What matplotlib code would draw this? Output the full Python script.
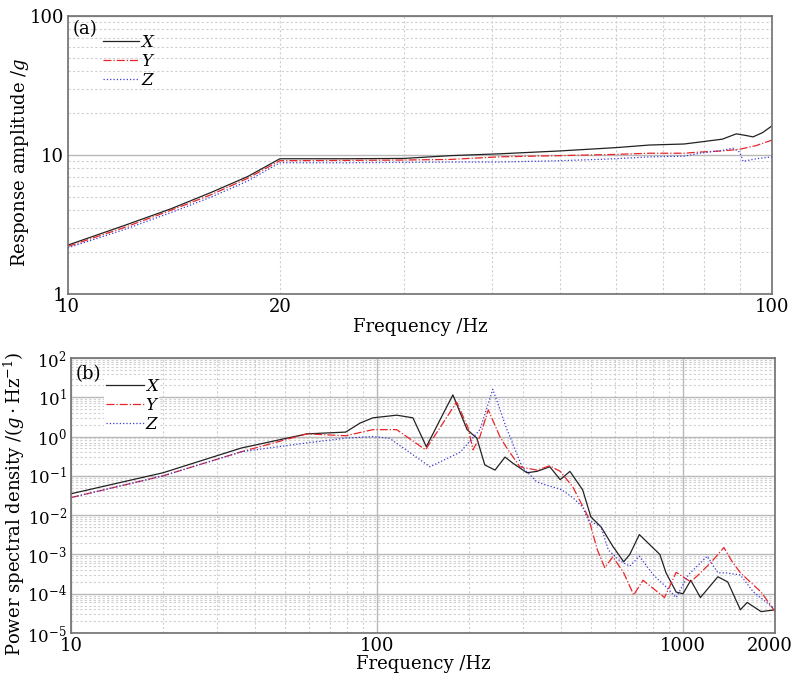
import matplotlib
matplotlib.use("Agg")
import matplotlib.pyplot as plt
import matplotlib.transforms as mtransforms
from matplotlib.ticker import FixedLocator, NullFormatter, LogLocator, FixedFormatter

plt.rcParams['font.family'] = ['DejaVu Serif']
plt.rcParams['mathtext.fontset'] = 'dejavuserif'

# ---------------- Panel (a): response amplitude ----------------
fa_x = [10, 12, 14, 16, 18, 20, 25, 30, 35, 41, 50, 60, 67, 75, 79, 85, 89, 92, 94, 97, 100]
amp_x = [2.25, 3.1, 4.1, 5.4, 7.0, 9.4, 9.4, 9.45, 9.9, 10.2, 10.7, 11.3, 11.8, 12.0, 12.4, 13.0, 14.2, 13.8, 13.5, 14.5, 16.2]
fa_y = [10, 12, 14, 16, 18, 20, 25, 30, 35, 41, 50, 60, 67, 75, 79, 85, 90, 95, 100]
amp_y = [2.2, 3.0, 4.0, 5.2, 6.8, 9.1, 9.15, 9.2, 9.3, 9.7, 9.9, 10.1, 10.3, 10.3, 10.5, 10.7, 11.0, 11.7, 12.8]
fa_z = [10, 12, 14, 16, 18, 20, 25, 30, 35, 41, 50, 60, 67, 75, 79, 85, 88, 90, 91, 95, 100]
amp_z = [2.15, 2.9, 3.85, 5.0, 6.5, 8.8, 8.8, 8.85, 8.9, 8.9, 9.1, 9.4, 9.7, 9.8, 10.3, 10.8, 11.2, 10.5, 9.0, 9.4, 9.7]

# ---------------- Panel (b): power spectral density ----------------
fb_x = [10, 20, 36, 59, 79, 88, 97, 116, 131, 145, 160, 177, 197, 212, 225, 243, 262, 278, 309, 333, 367, 397, 427, 470,
        500, 540, 590, 640, 670, 720, 840, 880, 950, 1000, 1060, 1140, 1300, 1400, 1540, 1620, 1800, 2000]
psd_x = [0.035, 0.12, 0.51, 1.17, 1.3, 2.2, 3.0, 3.5, 3.0, 0.55, 2.5, 11.5, 1.5, 0.91, 0.19, 0.14, 0.30, 0.21, 0.12, 0.13, 0.17, 0.08, 0.13, 0.044,
         0.009, 0.005, 0.0016, 0.00065, 0.001, 0.0032, 0.001, 0.00034, 0.00011, 0.0001, 0.00022, 0.00008, 0.00027, 0.0002, 0.000039, 0.00006, 0.000035, 0.000039]
fb_y = [10, 20, 36, 59, 79, 97, 116, 144, 160, 182, 198, 206, 217, 231, 252, 264, 293, 333, 367, 397, 436,
        490, 525, 555, 590, 640, 690, 740, 870, 950, 1060, 1140, 1240, 1360, 1440, 1540, 1800, 2000]
psd_y = [0.028, 0.1, 0.41, 1.17, 1.05, 1.5, 1.5, 0.46, 1.6, 7.6, 1.75, 0.46, 1.0, 4.8, 1.0, 0.55, 0.17, 0.14, 0.18, 0.13, 0.053,
         0.009, 0.0013, 0.00046, 0.00087, 0.00034, 0.000093, 0.00022, 0.00008, 0.00035, 0.0002, 0.00034, 0.00065, 0.0015, 0.0007, 0.00034, 0.00011, 0.000035]
fb_z = [10, 20, 36, 59, 79, 97, 110, 149, 187, 217, 239, 264, 298, 333, 358, 400, 436, 470, 490,
        540, 570, 620, 670, 720, 800, 880, 950, 1040, 1200, 1300, 1380, 1540, 1700, 2000]
psd_z = [0.028, 0.1, 0.41, 0.69, 0.91, 1.0, 0.9, 0.17, 0.4, 1.5, 16.0, 1.75, 0.17, 0.07, 0.058, 0.045, 0.028, 0.016, 0.0075,
         0.005, 0.0013, 0.0007, 0.0005, 0.0009, 0.0003, 0.00015, 0.00008, 0.0003, 0.0009, 0.00034, 0.00034, 0.0003, 0.00011, 0.00004]

series_labels = ['X', 'Y', 'Z']
colors = ['#222222', '#e8262a', '#3a3ad8']
styles = ['-', '-.', ':']

fig = plt.figure(figsize=(7.95, 6.85), dpi=100)
ax1 = fig.add_axes([0.0855, 0.5708, 0.8855, 0.4058])
ax2 = fig.add_axes([0.0893, 0.0759, 0.8857, 0.4015])

grid_major = dict(color='#b8b8b8', linewidth=1.0, linestyle='-')
grid_minor = dict(color='#cfcfcf', linewidth=0.8, linestyle=(0, (2, 2)))
FS = 13

# Panel a
for fx, vy, c, ls, lab in [(fa_x, amp_x, colors[0], styles[0], series_labels[0]),
                           (fa_y, amp_y, colors[1], styles[1], series_labels[1]),
                           (fa_z, amp_z, colors[2], styles[2], series_labels[2])]:
    ax1.plot(fx, vy, color=c, linestyle=ls, linewidth=0.9, label=lab)
ax1.set_xscale('log')
ax1.set_yscale('log')
ax1.set_xlim(10, 100)
ax1.set_ylim(1, 100)
ax1.xaxis.set_major_locator(FixedLocator([10, 20, 100]))
ax1.xaxis.set_major_formatter(FixedFormatter(['10', '20', '100']))
ax1.xaxis.set_minor_locator(FixedLocator([30, 40, 50, 60, 70, 80, 90]))
ax1.xaxis.set_minor_formatter(NullFormatter())
ax1.yaxis.set_major_locator(FixedLocator([1, 10, 100]))
ax1.yaxis.set_major_formatter(FixedFormatter(['1', '10', '100']))
ax1.yaxis.set_minor_locator(LogLocator(base=10, subs=range(2, 10)))
ax1.yaxis.set_minor_formatter(NullFormatter())
ax1.grid(True, which='major', axis='y', **grid_major)
ax1.grid(True, which='minor', axis='y', **grid_minor)
ax1.grid(True, which='both', axis='x', **grid_minor)
ax1.set_axisbelow(True)
ax1.tick_params(which='both', length=0, labelsize=FS, pad=3)
ax1.set_xlabel('Frequency /Hz', fontsize=FS, labelpad=1)
ax1.set_ylabel(r'Response amplitude /$g$', fontsize=FS)
ax1.yaxis.set_label_coords(-0.052, 0.475)
ax1.text(0.006, 0.985, '(a)', transform=ax1.transAxes, fontsize=FS, va='top', ha='left')
leg1 = ax1.legend(loc='upper left', bbox_to_anchor=(0.035, 0.972), frameon=False, fontsize=12,
                  handlelength=2.2, handletextpad=0.1, labelspacing=0.12, borderpad=0.1)
for t in leg1.get_texts():
    t.set_fontstyle('italic')

# Panel b
for fx, vy, c, ls, lab in [(fb_x, psd_x, colors[0], styles[0], series_labels[0]),
                           (fb_y, psd_y, colors[1], styles[1], series_labels[1]),
                           (fb_z, psd_z, colors[2], styles[2], series_labels[2])]:
    ax2.plot(fx, vy, color=c, linestyle=ls, linewidth=0.9, label=lab)
ax2.set_xscale('log')
ax2.set_yscale('log')
ax2.set_xlim(10, 2000)
ax2.set_ylim(1e-5, 1e2)
ax2.xaxis.set_major_locator(FixedLocator([10, 100, 1000, 2000]))
ax2.xaxis.set_major_formatter(FixedFormatter(['10', '100', '1000', '2000']))
ax2.xaxis.set_minor_locator(FixedLocator([20, 30, 40, 50, 60, 70, 80, 90, 200, 300, 400, 500, 600, 700, 800, 900]))
ax2.xaxis.set_minor_formatter(NullFormatter())
yt = [1e-5, 1e-4, 1e-3, 1e-2, 1e-1, 1e0, 1e1, 1e2]
ax2.yaxis.set_major_locator(FixedLocator(yt))
ax2.yaxis.set_major_formatter(FixedFormatter([r'$10^{-5}$', r'$10^{-4}$', r'$10^{-3}$', r'$10^{-2}$',
                                              r'$10^{-1}$', r'$10^{0}$', r'$10^{1}$', r'$10^{2}$']))
ax2.yaxis.set_minor_locator(LogLocator(base=10, subs=range(2, 10), numticks=20))
ax2.yaxis.set_minor_formatter(NullFormatter())
ax2.grid(True, which='major', **grid_major)
ax2.grid(True, which='minor', **grid_minor)
ax2.set_axisbelow(True)
ax2.tick_params(which='both', length=0, labelsize=FS, pad=3)
ax2.tick_params(axis='y', labelsize=12, pad=3)
ax2.set_xlabel('Frequency /Hz', fontsize=FS, labelpad=0)
ax2.set_ylabel(r'Power spectral density /($g\cdot$Hz$^{-1}$)', fontsize=FS)
ax2.yaxis.set_label_coords(-0.062, 0.47)
ax2.text(0.006, 0.975, '(b)', transform=ax2.transAxes, fontsize=FS, va='top', ha='left')
leg2 = ax2.legend(loc='upper left', bbox_to_anchor=(0.035, 0.965), frameon=True, fontsize=12,
                  handlelength=2.3, handletextpad=0.1, labelspacing=0.12, borderpad=0.1)
leg2.get_frame().set_facecolor('white')
leg2.get_frame().set_edgecolor('none')
leg2.get_frame().set_alpha(1.0)
for t in leg2.get_texts():
    t.set_fontstyle('italic')

# nudge the last x tick label ("2000") slightly left so it stays inside the figure
fig.canvas.draw()
shift = mtransforms.ScaledTranslation(-4 / 72, 0, fig.dpi_scale_trans)
last = ax2.get_xticklabels()[-1]
last.set_transform(last.get_transform() + shift)

for ax in (ax1, ax2):
    for s in ax.spines.values():
        s.set_color('#707070')
        s.set_linewidth(1.2)

fig.savefig('out.png', dpi=100)
